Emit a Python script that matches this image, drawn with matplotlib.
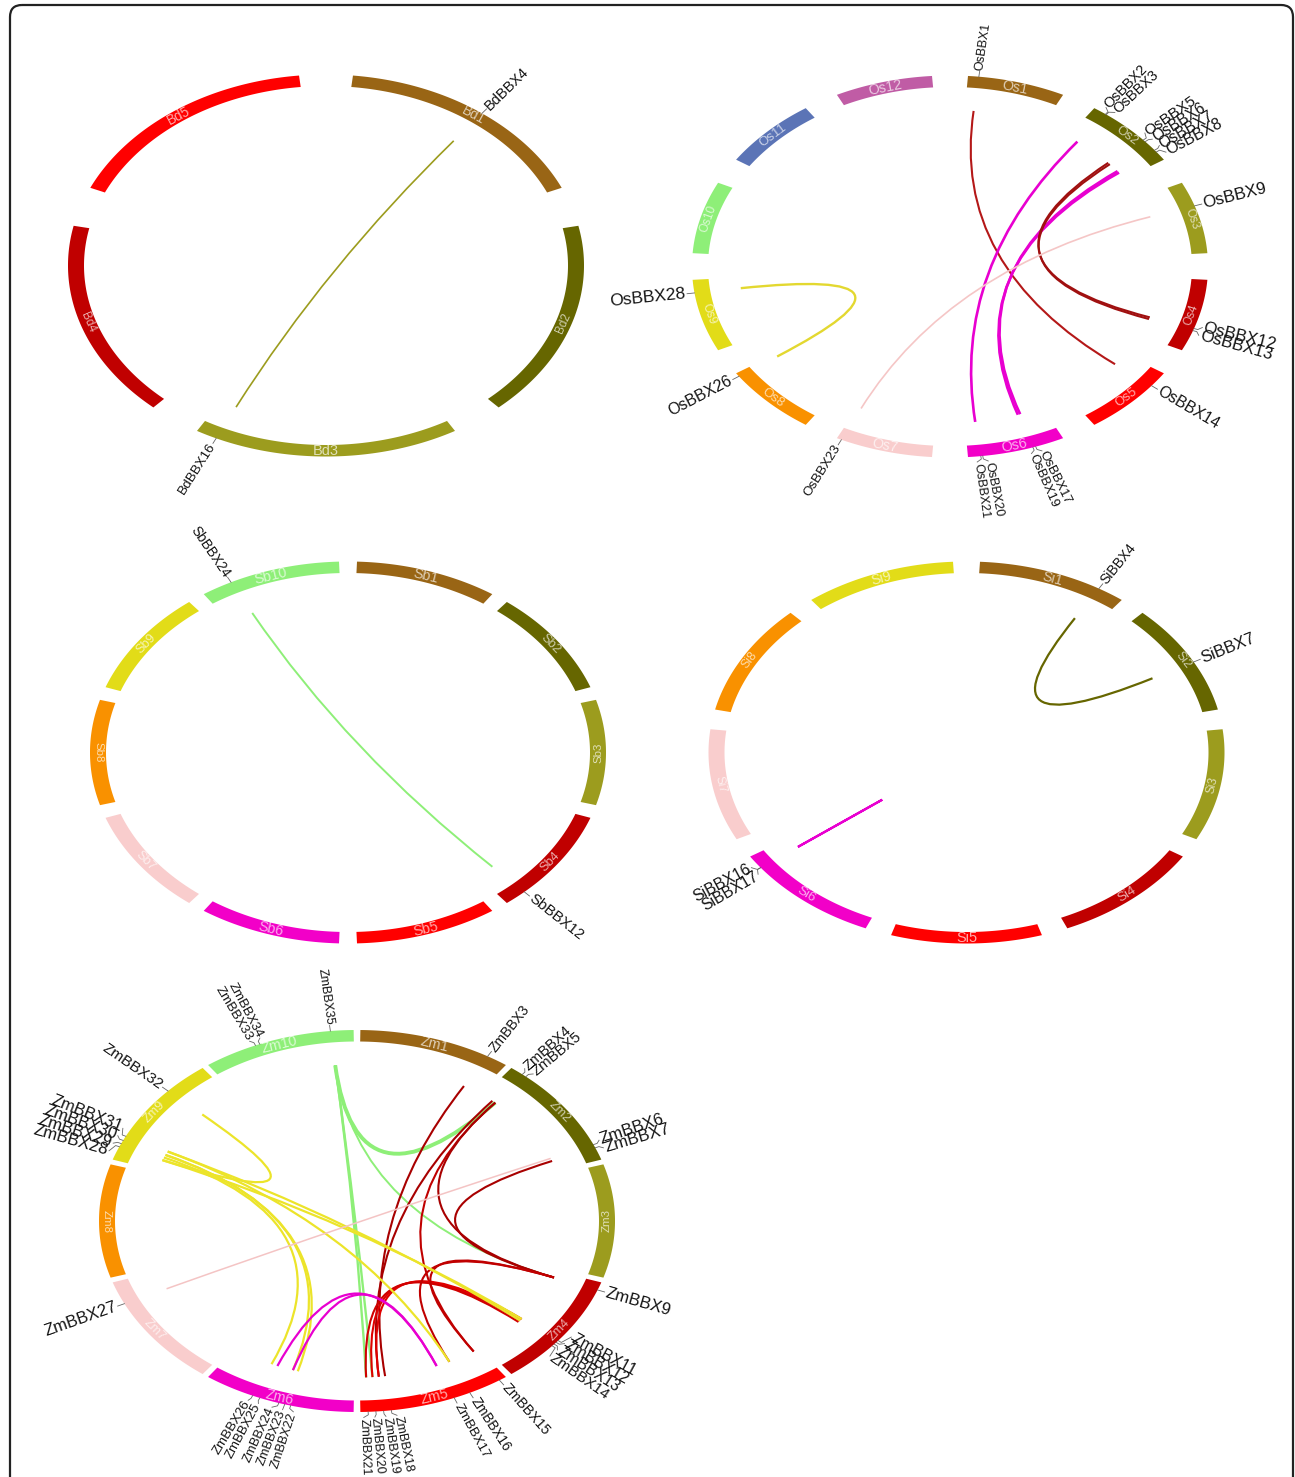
import numpy as np
import matplotlib.pyplot as plt
from matplotlib.path import Path
from matplotlib.patches import PathPatch, Polygon, FancyBboxPatch

W, H = 1295, 1477

# circos-style chromosome palette (chr1 .. chr12)
chr_colors = ['#996515', '#666600', '#9C9C1E', '#C00000', '#FF0000', '#F200C8',
              '#F9CDCD', '#F99100', '#E2DC18', '#8EEF78', '#5B74B6', '#C05CA5']

# ---- Brachypodium distachyon
bd_chroms = ['Bd1', 'Bd2', 'Bd3', 'Bd4', 'Bd5']
bd_genes = [('BdBBX4', 'Bd1', 0.52), ('BdBBX16', 'Bd3', 0.92)]
bd_links = [('BdBBX4', 'BdBBX16', '#9C9C1E', 1.2)]

# ---- Oryza sativa
os_chroms = ['Os1', 'Os2', 'Os3', 'Os4', 'Os5', 'Os6',
             'Os7', 'Os8', 'Os9', 'Os10', 'Os11', 'Os12']
os_genes = [('OsBBX1', 'Os1', 0.11),
            ('OsBBX2', 'Os2', 0.14), ('OsBBX3', 'Os2', 0.15),
            ('OsBBX5', 'Os2', 0.66), ('OsBBX6', 'Os2', 0.69),
            ('OsBBX7', 'Os2', 0.84), ('OsBBX8', 'Os2', 0.87),
            ('OsBBX9', 'Os3', 0.34),
            ('OsBBX12', 'Os4', 0.68), ('OsBBX13', 'Os4', 0.71),
            ('OsBBX14', 'Os5', 0.21),
            ('OsBBX17', 'Os6', 0.30), ('OsBBX19', 'Os6', 0.33),
            ('OsBBX20', 'Os6', 0.85), ('OsBBX21', 'Os6', 0.87),
            ('OsBBX23', 'Os7', 0.95),
            ('OsBBX26', 'Os8', 0.95),
            ('OsBBX28', 'Os9', 0.82)]
os_links = [('OsBBX1', 'OsBBX14', '#B41818', 1.5),
            ('OsBBX2', 'OsBBX21', '#E800D0', 1.9),
            ('OsBBX7', 'OsBBX17', '#E800D0', 1.9),
            ('OsBBX8', 'OsBBX19', '#E800D0', 1.9),
            ('OsBBX5', 'OsBBX12', '#A01010', 1.5),
            ('OsBBX6', 'OsBBX13', '#A01010', 1.5),
            ('OsBBX9', 'OsBBX23', '#F5C6C6', 1.2),
            ('OsBBX28', 'OsBBX26', '#E3D830', 1.7)]

# ---- Sorghum bicolor
sb_chroms = ['Sb1', 'Sb2', 'Sb3', 'Sb4', 'Sb5', 'Sb6', 'Sb7', 'Sb8', 'Sb9', 'Sb10']
sb_genes = [('SbBBX12', 'Sb4', 0.84), ('SbBBX24', 'Sb10', 0.22)]
sb_links = [('SbBBX24', 'SbBBX12', '#8EEF78', 1.4)]

# ---- Setaria italica
si_chroms = ['Si1', 'Si2', 'Si3', 'Si4', 'Si5', 'Si6', 'Si7', 'Si8', 'Si9']
si_genes = [('SiBBX4', 'Si1', 0.82), ('SiBBX7', 'Si2', 0.55),
            ('SiBBX17', 'Si6', 0.88), ('SiBBX16', 'Si6', 0.88)]
si_links = [('SiBBX4', 'SiBBX7', '#666600', 1.6),
            ('SiBBX16', 'SiBBX17', '#E800D0', 1.6)]

# ---- Zea mays
zm_chroms = ['Zm1', 'Zm2', 'Zm3', 'Zm4', 'Zm5', 'Zm6', 'Zm7', 'Zm8', 'Zm9', 'Zm10']
zm_genes = [('ZmBBX3', 'Zm1', 0.86),
            ('ZmBBX4', 'Zm2', 0.09), ('ZmBBX5', 'Zm2', 0.12),
            ('ZmBBX6', 'Zm2', 0.86), ('ZmBBX7', 'Zm2', 0.89),
            ('ZmBBX9', 'Zm4', 0.07),
            ('ZmBBX11', 'Zm4', 0.58), ('ZmBBX12', 'Zm4', 0.60),
            ('ZmBBX13', 'Zm4', 0.62), ('ZmBBX14', 'Zm4', 0.64),
            ('ZmBBX15', 'Zm5', 0.05), ('ZmBBX16', 'Zm5', 0.27), ('ZmBBX17', 'Zm5', 0.38),
            ('ZmBBX18', 'Zm5', 0.80), ('ZmBBX19', 'Zm5', 0.85),
            ('ZmBBX20', 'Zm5', 0.90), ('ZmBBX21', 'Zm5', 0.95),
            ('ZmBBX22', 'Zm6', 0.41), ('ZmBBX23', 'Zm6', 0.45), ('ZmBBX24', 'Zm6', 0.49),
            ('ZmBBX25', 'Zm6', 0.62), ('ZmBBX26', 'Zm6', 0.67),
            ('ZmBBX27', 'Zm7', 0.80),
            ('ZmBBX28', 'Zm9', 0.12), ('ZmBBX29', 'Zm9', 0.15),
            ('ZmBBX30', 'Zm9', 0.18), ('ZmBBX31', 'Zm9', 0.22), ('ZmBBX32', 'Zm9', 0.70),
            ('ZmBBX33', 'Zm10', 0.35), ('ZmBBX34', 'Zm10', 0.38), ('ZmBBX35', 'Zm10', 0.85)]
zm_links = [('ZmBBX35', 'ZmBBX20', '#8EEF78', 1.7),
            ('ZmBBX35', 'ZmBBX21', '#8EEF78', 1.7),
            ('ZmBBX35', 'ZmBBX5', '#8EEF78', 2.8),
            ('ZmBBX35', 'ZmBBX9', '#8EEF78', 1.4),
            ('ZmBBX3', 'ZmBBX18', '#A80000', 1.5),
            ('ZmBBX4', 'ZmBBX19', '#A80000', 1.5),
            ('ZmBBX5', 'ZmBBX15', '#C00000', 1.5),
            ('ZmBBX5', 'ZmBBX9', '#A80000', 1.5),
            ('ZmBBX7', 'ZmBBX9', '#A80000', 1.5),
            ('ZmBBX19', 'ZmBBX11', '#E00000', 1.5),
            ('ZmBBX20', 'ZmBBX12', '#E00000', 1.5),
            ('ZmBBX21', 'ZmBBX13', '#D00000', 1.5),
            ('ZmBBX15', 'ZmBBX9', '#C00000', 1.5),
            ('ZmBBX16', 'ZmBBX9', '#C00000', 1.5),
            ('ZmBBX32', 'ZmBBX28', '#ECE42A', 1.6),
            ('ZmBBX29', 'ZmBBX26', '#ECE42A', 1.6),
            ('ZmBBX30', 'ZmBBX24', '#ECE42A', 1.6),
            ('ZmBBX30', 'ZmBBX23', '#ECE42A', 1.6),
            ('ZmBBX31', 'ZmBBX16', '#ECE42A', 1.6),
            ('ZmBBX31', 'ZmBBX12', '#ECE42A', 1.6),
            ('ZmBBX28', 'ZmBBX11', '#ECE42A', 1.6),
            ('ZmBBX24', 'ZmBBX17', '#E800D0', 1.6),
            ('ZmBBX25', 'ZmBBX17', '#E800D0', 1.6),
            ('ZmBBX27', 'ZmBBX6', '#F4C4C4', 1.1)]

# (center x, center y, gap between chromosomes in degrees, data)
panels = [((326, 265.5), 12.0, bd_chroms, bd_genes, bd_links),
          ((950, 266.5), 8.0, os_chroms, os_genes, os_links),
          ((348, 752.5), 4.0, sb_chroms, sb_genes, sb_links),
          ((966.5, 752.5), 6.0, si_chroms, si_genes, si_links),
          ((357, 1221), 1.5, zm_chroms, zm_genes, zm_links)]

RX_OUT, RY_OUT = 258.0, 191.0
RX_IN, RY_IN = 242.0, 179.5
RX_MID, RY_MID = (RX_OUT + RX_IN) / 2, (RY_OUT + RY_IN) / 2
LINK_R = 0.845
PX2PT = 72.0 / 100
LABEL_SEP = 2.4
FONT = 'Liberation Sans'


def ell(c, rx, ry, th):
    t = np.radians(th)
    return np.column_stack([c[0] + rx * np.sin(t), c[1] - ry * np.cos(t)])


def outside(c, th, d):
    # point d px beyond the outer edge of the ring
    return ell(c, RX_OUT + d, RY_OUT + d * RY_OUT / RX_OUT, np.atleast_1d(th))[0]


def spread(angles, sep):
    a = np.asarray(angles, float)
    order = np.argsort(a, kind='stable')
    b = a[order].copy()
    for _ in range(300):
        moved = False
        for k in range(len(b) - 1):
            d = b[k + 1] - b[k]
            if d < sep - 1e-6:
                s = (sep - d) / 2
                b[k] -= s
                b[k + 1] += s
                moved = True
        if not moved:
            break
    out = np.empty_like(b)
    out[order] = b
    return out


fig = plt.figure(figsize=(W / 100, H / 100), dpi=100)
ax = fig.add_axes([0, 0, 1, 1])
ax.set_xlim(0, W)
ax.set_ylim(H, 0)
ax.axis('off')

# frame runs off the bottom edge
ax.add_patch(FancyBboxPatch((10, 5), 1283, 1495,
                            boxstyle='round,pad=0,rounding_size=12',
                            fc='none', ec='#222222', lw=1.6, clip_on=True))

for c, gap, chroms, genes, links in panels:
    n = len(chroms)
    step = 360.0 / n
    spans = {}
    for i, name in enumerate(chroms):
        a0 = i * step + gap / 2
        a1 = a0 + step - gap
        spans[name] = (a0, a1)
        th = np.linspace(a0, a1, 120)
        poly = np.vstack([ell(c, RX_OUT, RY_OUT, th), ell(c, RX_IN, RY_IN, th[::-1])])
        ax.add_patch(Polygon(poly, closed=True, fc=chr_colors[i], ec='none', zorder=2))
        tm = (a0 + a1) / 2
        t = np.radians(tm)
        rot = np.degrees(np.arctan2(-RY_MID * np.sin(t), RX_MID * np.cos(t)))
        if rot > 90:
            rot -= 180
        elif rot <= -90:
            rot += 180
        fs = np.hypot(14.5 * np.cos(t), 11.5 * np.sin(t)) * PX2PT
        x, y = ell(c, RX_MID, RY_MID, [tm])[0]
        ax.text(x, y, name, rotation=rot, rotation_mode='anchor', ha='center',
                va='center', fontsize=fs, family=FONT, color=(1, 1, 1, 0.68), zorder=3)

    # gene angles
    gth = {}
    for g, ch, pos in genes:
        a0, a1 = spans[ch]
        gth[g] = a0 + pos * (a1 - a0)

    # links: quadratic bezier through the centre
    for ga, gb, col, lw in links:
        p0 = ell(c, RX_MID * LINK_R, RY_MID * LINK_R, [gth[ga]])[0]
        p2 = ell(c, RX_MID * LINK_R, RY_MID * LINK_R, [gth[gb]])[0]
        path = Path([p0, c, p2], [Path.MOVETO, Path.CURVE3, Path.CURVE3])
        ax.add_patch(PathPatch(path, fc='none', ec=col, lw=lw, capstyle='butt', zorder=4))

    # gene labels
    names = [g for g, _, _ in genes]
    lab = spread([gth[g] for g in names], LABEL_SEP)
    for g, la in zip(names, lab):
        gt = gth[g]
        p_a = outside(c, gt, 0)
        p_b = outside(c, gt, 4)
        p_c = outside(c, la, 7.5)
        ax.plot([p_a[0], p_b[0], p_c[0]], [p_a[1], p_b[1], p_c[1]],
                color='#666666', lw=0.6, zorder=3)
        t = np.radians(la)
        ang = np.degrees(np.arctan2(RY_OUT * np.cos(t), RX_OUT * np.sin(t)))
        fs = np.hypot(17.5 * np.sin(t), 12.4 * np.cos(t)) * PX2PT
        px, py = outside(c, la, 9)
        if np.sin(t) >= 0:
            ax.text(px, py, g, rotation=ang, rotation_mode='anchor', ha='left',
                    va='center', fontsize=fs, family=FONT, color='#141414', zorder=5)
        else:
            ax.text(px, py, g, rotation=ang + 180, rotation_mode='anchor', ha='right',
                    va='center', fontsize=fs, family=FONT, color='#141414', zorder=5)

fig.savefig('out.png', dpi=100, facecolor='white')
